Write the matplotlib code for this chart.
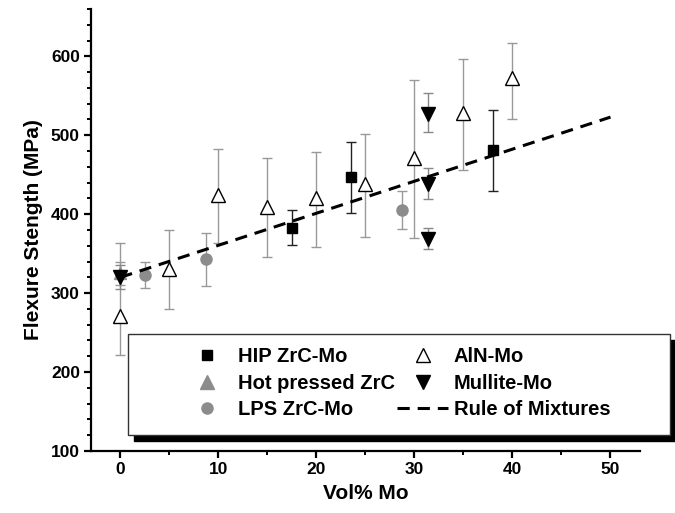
import matplotlib
matplotlib.use("Agg")
import matplotlib.pyplot as plt
from matplotlib.patches import Rectangle
from matplotlib.ticker import MultipleLocator

plt.rcParams["font.family"] = ["Liberation Sans", "DejaVu Sans"]
plt.rcParams["font.weight"] = "bold"

# HIP ZrC-Mo
hip_x = [17.5, 23.5, 38.0]
hip_y = [383, 447, 481]
hip_lo = [361, 402, 430]
hip_hi = [405, 491, 532]

# Hot pressed ZrC
hp_x = [0.0]
hp_y = [325]
hp_lo = [310]
hp_hi = [340]

# LPS ZrC-Mo
lps_x = [2.5, 8.7, 28.7]
lps_y = [323, 343, 405]
lps_lo = [306, 309, 381]
lps_hi = [340, 376, 430]

# AlN-Mo
aln_x = [0, 5, 10, 15, 20, 25, 30, 35, 40]
aln_y = [271, 330, 424, 409, 420, 438, 471, 528, 572]
aln_lo = [222, 280, 363, 346, 359, 371, 370, 456, 521]
aln_hi = [363, 380, 483, 471, 479, 501, 570, 596, 617]

# Mullite-Mo
mul_x = [0.0, 31.4, 31.4, 31.4]
mul_y = [320, 527, 438, 368]
mul_lo = [305, 504, 419, 356]
mul_hi = [336, 553, 458, 382]

# Rule of mixtures
rom_x = [0, 50]
rom_y = [320, 523]


def yerr(y, lo, hi):
    return [[v - l for v, l in zip(y, lo)], [h - v for v, h in zip(y, hi)]]


fig = plt.figure(figsize=(6.75, 5.13), dpi=100)
ax = fig.add_axes([0.1348, 0.1209, 0.8132, 0.8616])

grey = "#8c8c8c"
ebar = dict(capsize=3.6, elinewidth=1.0, capthick=1.0, linestyle="none")

ax.errorbar(aln_x, aln_y, yerr=yerr(aln_y, aln_lo, aln_hi), fmt="^", ms=10,
            mfc="white", mec="black", mew=1.0, ecolor="#999999", zorder=3, **ebar)
ax.errorbar(lps_x, lps_y, yerr=yerr(lps_y, lps_lo, lps_hi), fmt="o", ms=8,
            mfc=grey, mec=grey, ecolor="#999999", zorder=3, **ebar)
ax.errorbar(hp_x, hp_y, yerr=yerr(hp_y, hp_lo, hp_hi), fmt="^", ms=9,
            mfc=grey, mec=grey, ecolor="#999999", zorder=3, **ebar)
ax.errorbar(mul_x, mul_y, yerr=yerr(mul_y, mul_lo, mul_hi), fmt="v", ms=10.5,
            mfc="black", mec="black", ecolor="#888888", zorder=4, **ebar)
ax.errorbar(hip_x, hip_y, yerr=yerr(hip_y, hip_lo, hip_hi), fmt="s", ms=7,
            mfc="black", mec="black", ecolor="#222222", zorder=4, **ebar)
ax.plot(rom_x, rom_y, color="black", lw=2.2, dashes=(4.0, 2.6), zorder=5)

ax.set_xlim(-3, 53)
ax.set_ylim(100, 660)
ax.xaxis.set_major_locator(MultipleLocator(10))
ax.xaxis.set_minor_locator(MultipleLocator(5))
ax.yaxis.set_major_locator(MultipleLocator(100))
ax.yaxis.set_minor_locator(MultipleLocator(20))
for s in ("top", "right"):
    ax.spines[s].set_visible(False)
for s in ("left", "bottom"):
    ax.spines[s].set_linewidth(1.6)
ax.tick_params(which="major", length=5, width=1.6, labelsize=12.5, pad=3)
ax.tick_params(which="minor", length=3, width=1.4)
for lab in ax.get_xticklabels() + ax.get_yticklabels():
    lab.set_fontweight("bold")

ax.set_xlabel("Vol% Mo", fontsize=15, fontweight="bold", labelpad=5)
ax.set_ylabel("Flexure Stength (MPa)", fontsize=15, fontweight="bold", labelpad=6)

# legend frame with solid drop shadow
W, H = 675, 513
x0, y0, x1, y1 = 128, 334, 670, 435
fig.add_artist(Rectangle(((x0 + 6) / W, 1 - (y1 + 6) / H), (x1 - x0) / W, (y1 - y0) / H,
                         transform=fig.transFigure, facecolor="black", edgecolor="black",
                         zorder=2))
fig.add_artist(Rectangle((x0 / W, 1 - y1 / H), (x1 - x0) / W, (y1 - y0) / H,
                         transform=fig.transFigure, facecolor="white", edgecolor="#333333",
                         lw=1.0, zorder=3))

h_hip = ax.plot([], [], "s", color="black", ms=7)[0]
h_hp = ax.plot([], [], "^", color=grey, ms=10)[0]
h_lps = ax.plot([], [], "o", color=grey, ms=8)[0]
h_aln = ax.plot([], [], "^", mfc="white", mec="black", mew=1.0, ms=10)[0]
h_mul = ax.plot([], [], "v", color="black", ms=10.5)[0]
h_rom = ax.plot([], [], color="black", lw=2.2, dashes=(4.0, 2.6))[0]

leg = fig.legend([h_hip, h_hp, h_lps, h_aln, h_mul, h_rom],
                 ["HIP ZrC-Mo", "Hot pressed ZrC", "LPS ZrC-Mo",
                  "AlN-Mo", "Mullite-Mo", "Rule of Mixtures"],
                 ncol=2, loc="upper left", bbox_to_anchor=(182 / W, 1 - 347 / H),
                 frameon=False, borderpad=0, borderaxespad=0,
                 handlelength=2.5, handletextpad=0.3, columnspacing=0.1,
                 labelspacing=0.38, prop={"size": 14.5, "weight": "bold"})
leg.set_zorder(4)

fig.savefig("out.png", dpi=100)
